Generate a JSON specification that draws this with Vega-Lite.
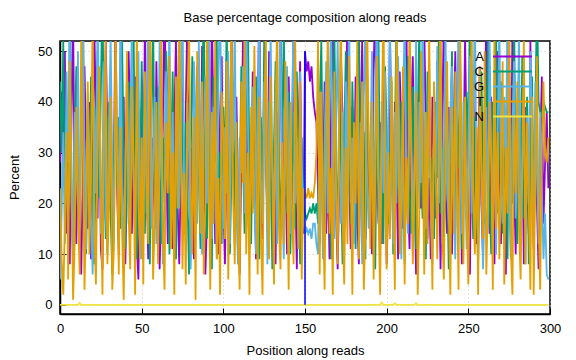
{
"$schema":"https://vega.github.io/schema/vega-lite/v6.json",
"width":490,"height":273,
"autosize":{"type":"none"},
"padding":{"left":60,"top":41,"right":26,"bottom":46},
"background":"white",
"title":{"text":"Base percentage composition along reads","font":"Liberation Sans","fontSize":13,"fontWeight":"normal","color":"black","offset":16,"anchor":"middle"},
"config":{
 "view":{"stroke":"black","strokeWidth":1.5},
 "axis":{"labelFont":"Liberation Sans","labelFontSize":13,"labelColor":"black","labelFlush":false,"titleFont":"Liberation Sans","titleFontSize":13,"titleFontWeight":"normal","titleColor":"black","domainColor":"black","domainWidth":1.5,"tickColor":"black","tickSize":-6,"tickWidth":1,"grid":true,"gridColor":"#c0c0c0","gridDash":[1,3],"gridWidth":1}
},
"layer":[
{
"data":{"values":[
{"p":0,"A":28,"C":44,"G":5,"T":23,"N":0},{"p":1,"A":42,"C":30,"G":18,"T":9,"N":0},{"p":2,"A":30,"C":52,"G":34,"T":2,"N":0},{"p":3,"A":50,"C":18,"G":12,"T":16,"N":0},{"p":4,"A":14,"C":38,"G":46,"T":34,"N":0},{"p":5,"A":22,"C":12,"G":28,"T":5,"N":0},{"p":6,"A":8,"C":60,"G":55,"T":48,"N":0},{"p":7,"A":36,"C":25,"G":20,"T":27,"N":0},{"p":8,"A":58,"C":9,"G":8,"T":1,"N":0},{"p":9,"A":20,"C":33,"G":38,"T":12,"N":0},
{"p":10,"A":12,"C":47,"G":24,"T":39,"N":0},{"p":11,"A":33,"C":20,"G":50,"T":20,"N":0},{"p":12,"A":18,"C":14,"G":15,"T":6,"N":0.4},{"p":13,"A":6,"C":39,"G":33,"T":55,"N":0},{"p":14,"A":26,"C":58,"G":62,"T":31,"N":0},{"p":15,"A":47,"C":26,"G":27,"T":3,"N":0},{"p":16,"A":31,"C":10,"G":11,"T":18,"N":0},{"p":17,"A":15,"C":31,"G":42,"T":44,"N":0},{"p":18,"A":40,"C":22,"G":30,"T":10,"N":0},{"p":19,"A":9,"C":45,"G":17,"T":26,"N":0},
{"p":20,"A":24,"C":16,"G":6,"T":58,"N":0},{"p":21,"A":55,"C":8,"G":39,"T":14,"N":0},{"p":22,"A":38,"C":36,"G":22,"T":4,"N":0},{"p":23,"A":17,"C":50,"G":57,"T":30,"N":0},{"p":24,"A":44,"C":21,"G":36,"T":47,"N":0},{"p":25,"A":11,"C":42,"G":14,"T":22,"N":0},{"p":26,"A":7,"C":62,"G":29,"T":2,"N":0},{"p":27,"A":29,"C":28,"G":48,"T":37,"N":0},{"p":28,"A":52,"C":13,"G":19,"T":52,"N":0},{"p":29,"A":35,"C":34,"G":10,"T":8,"N":0},
{"p":30,"A":19,"C":40,"G":35,"T":19,"N":0},{"p":31,"A":46,"C":18,"G":53,"T":41,"N":0},{"p":32,"A":13,"C":6,"G":26,"T":3,"N":0},{"p":33,"A":27,"C":29,"G":12,"T":11,"N":0},{"p":34,"A":60,"C":45,"G":40,"T":60,"N":0},{"p":35,"A":22,"C":23,"G":31,"T":28,"N":0},{"p":36,"A":10,"C":37,"G":18,"T":6,"N":0},{"p":37,"A":34,"C":15,"G":60,"T":35,"N":0},{"p":38,"A":16,"C":52,"G":22,"T":15,"N":0},{"p":39,"A":41,"C":30,"G":8,"T":1,"N":0},
{"p":40,"A":8,"C":11,"G":28,"T":24,"N":0},{"p":41,"A":25,"C":27,"G":45,"T":50,"N":0},{"p":42,"A":50,"C":44,"G":16,"T":18,"N":0},{"p":43,"A":37,"C":19,"G":37,"T":7,"N":0},{"p":44,"A":14,"C":33,"G":55,"T":43,"N":0},{"p":45,"A":30,"C":56,"G":24,"T":29,"N":0},{"p":46,"A":45,"C":24,"G":13,"T":2,"N":0},{"p":47,"A":12,"C":9,"G":34,"T":56,"N":0},{"p":48,"A":5,"C":38,"G":50,"T":21,"N":0},{"p":49,"A":28,"C":20,"G":21,"T":9,"N":0},
{"p":50,"A":39,"C":48,"G":9,"T":33,"N":0},{"p":51,"A":18,"C":31,"G":30,"T":4,"N":0},{"p":52,"A":57,"C":14,"G":43,"T":46,"N":0},{"p":53,"A":26,"C":40,"G":18,"T":26,"N":0},{"p":54,"A":9,"C":26,"G":64,"T":12,"N":0},{"p":55,"A":43,"C":8,"G":36,"T":58,"N":0},{"p":56,"A":21,"C":35,"G":15,"T":37,"N":0},{"p":57,"A":33,"C":57,"G":27,"T":5,"N":0},{"p":58,"A":15,"C":22,"G":41,"T":17,"N":0},{"p":59,"A":48,"C":17,"G":12,"T":40,"N":0},
{"p":60,"A":30,"C":43,"G":25,"T":8,"N":0},{"p":61,"A":7,"C":29,"G":52,"T":28,"N":0},{"p":62,"A":19,"C":12,"G":33,"T":53,"N":0},{"p":63,"A":36,"C":33,"G":8,"T":14,"N":0},{"p":64,"A":64,"C":20,"G":20,"T":3,"N":0},{"p":65,"A":29,"C":50,"G":46,"T":36,"N":0},{"p":66,"A":12,"C":38,"G":29,"T":22,"N":0},{"p":67,"A":40,"C":10,"G":58,"T":49,"N":0},{"p":68,"A":23,"C":27,"G":17,"T":11,"N":0},{"p":69,"A":11,"C":46,"G":38,"T":30,"N":0},
{"p":70,"A":35,"C":18,"G":11,"T":2,"N":0},{"p":71,"A":53,"C":9,"G":26,"T":45,"N":0},{"p":72,"A":20,"C":31,"G":44,"T":19,"N":0},{"p":73,"A":8,"C":55,"G":19,"T":61,"N":0},{"p":74,"A":27,"C":24,"G":35,"T":34,"N":0},{"p":75,"A":44,"C":40,"G":60,"T":7,"N":0},{"p":76,"A":16,"C":14,"G":23,"T":26,"N":0},{"p":77,"A":38,"C":36,"G":14,"T":4,"N":0},{"p":78,"A":58,"C":22,"G":40,"T":40,"N":0},{"p":79,"A":25,"C":6,"G":30,"T":55,"N":0},
{"p":80,"A":13,"C":28,"G":7,"T":23,"N":0},{"p":81,"A":31,"C":49,"G":22,"T":10,"N":0},{"p":82,"A":9,"C":35,"G":48,"T":37,"N":0},{"p":83,"A":22,"C":16,"G":37,"T":1,"N":0},{"p":84,"A":47,"C":42,"G":16,"T":50,"N":0},{"p":85,"A":34,"C":25,"G":52,"T":31,"N":0},{"p":86,"A":18,"C":11,"G":28,"T":14,"N":0},{"p":87,"A":51,"C":38,"G":10,"T":44,"N":0},{"p":88,"A":28,"C":60,"G":33,"T":6,"N":0},{"p":89,"A":6,"C":21,"G":45,"T":20,"N":0},
{"p":90,"A":17,"C":13,"G":20,"T":57,"N":0},{"p":91,"A":42,"C":34,"G":58,"T":29,"N":0},{"p":92,"A":24,"C":20,"G":31,"T":3,"N":0},{"p":93,"A":59,"C":7,"G":13,"T":38,"N":0},{"p":94,"A":33,"C":45,"G":39,"T":16,"N":0},{"p":95,"A":12,"C":28,"G":24,"T":52,"N":0},{"p":96,"A":26,"C":52,"G":9,"T":9,"N":0},{"p":97,"A":10,"C":18,"G":46,"T":25,"N":0},{"p":98,"A":37,"C":30,"G":61,"T":2,"N":0},{"p":99,"A":49,"C":12,"G":27,"T":42,"N":0},
{"p":100,"A":21,"C":39,"G":15,"T":33,"N":0},{"p":101,"A":8,"C":24,"G":35,"T":13,"N":0},{"p":102,"A":30,"C":56,"G":22,"T":48,"N":0},{"p":103,"A":45,"C":33,"G":50,"T":5,"N":0},{"p":104,"A":18,"C":10,"G":12,"T":27,"N":0},{"p":105,"A":55,"C":26,"G":41,"T":60,"N":0},{"p":106,"A":32,"C":44,"G":30,"T":21,"N":0},{"p":107,"A":14,"C":17,"G":56,"T":8,"N":0},{"p":108,"A":41,"C":36,"G":19,"T":36,"N":0},{"p":109,"A":23,"C":8,"G":8,"T":15,"N":0},
{"p":110,"A":6,"C":22,"G":33,"T":3,"N":0},{"p":111,"A":28,"C":47,"G":26,"T":44,"N":0},{"p":112,"A":52,"C":30,"G":47,"T":24,"N":0},{"p":113,"A":36,"C":14,"G":18,"T":56,"N":0},{"p":114,"A":15,"C":41,"G":60,"T":10,"N":0},{"p":115,"A":39,"C":58,"G":37,"T":30,"N":0},{"p":116,"A":11,"C":25,"G":14,"T":2,"N":0},{"p":117,"A":20,"C":12,"G":28,"T":39,"N":0},{"p":118,"A":46,"C":34,"G":43,"T":18,"N":0},{"p":119,"A":27,"C":19,"G":22,"T":51,"N":0},
{"p":120,"A":9,"C":45,"G":10,"T":28,"N":0},{"p":121,"A":34,"C":28,"G":38,"T":6,"N":0},{"p":122,"A":62,"C":9,"G":55,"T":41,"N":0},{"p":123,"A":24,"C":37,"G":25,"T":14,"N":0},{"p":124,"A":13,"C":21,"G":16,"T":2,"N":0},{"p":125,"A":43,"C":52,"G":44,"T":35,"N":0},{"p":126,"A":30,"C":33,"G":31,"T":54,"N":0},{"p":127,"A":17,"C":15,"G":8,"T":20,"N":0},{"p":128,"A":50,"C":40,"G":36,"T":9,"N":0},{"p":129,"A":35,"C":26,"G":53,"T":45,"N":0},
{"p":130,"A":12,"C":7,"G":27,"T":25,"N":0},{"p":131,"A":26,"C":31,"G":19,"T":4,"N":0},{"p":132,"A":8,"C":48,"G":42,"T":38,"N":0},{"p":133,"A":38,"C":22,"G":12,"T":57,"N":0},{"p":134,"A":21,"C":36,"G":34,"T":16,"N":0},{"p":135,"A":54,"C":13,"G":58,"T":7,"N":0},{"p":136,"A":40,"C":27,"G":21,"T":32,"N":0},{"p":137,"A":16,"C":55,"G":9,"T":12,"N":0},{"p":138,"A":29,"C":30,"G":30,"T":48,"N":0},{"p":139,"A":10,"C":18,"G":47,"T":26,"N":0},
{"p":140,"A":45,"C":42,"G":25,"T":3,"N":0},{"p":141,"A":31,"C":10,"G":14,"T":40,"N":0},{"p":142,"A":19,"C":24,"G":39,"T":20,"N":0},{"p":143,"A":57,"C":38,"G":55,"T":8,"N":0},{"p":144,"A":25,"C":15,"G":20,"T":52,"N":0},{"p":145,"A":7,"C":46,"G":33,"T":30,"N":0},{"p":146,"A":33,"C":29,"G":11,"T":11,"N":0},{"p":147,"A":48,"C":8,"G":46,"T":44,"N":0},{"p":148,"A":22,"C":33,"G":28,"T":5,"N":0},{"p":149,"A":14,"C":20,"G":17,"T":23,"N":0},
{"p":150,"A":50,"C":18,"G":14,"T":22,"N":0},{"p":151,"A":46,"C":17,"G":15,"T":21,"N":0},{"p":152,"A":48,"C":18,"G":14,"T":23,"N":0},{"p":153,"A":44,"C":19,"G":15,"T":21,"N":0},{"p":154,"A":47,"C":18,"G":13,"T":22,"N":0},{"p":155,"A":41,"C":20,"G":16,"T":21,"N":0},{"p":156,"A":38,"C":18,"G":16,"T":24,"N":0},{"p":157,"A":36,"C":20,"G":12,"T":30,"N":0},{"p":158,"A":22,"C":16,"G":10,"T":52,"N":0},{"p":159,"A":12,"C":40,"G":42,"T":6,"N":0},
{"p":160,"A":35,"C":52,"G":26,"T":42,"N":0},{"p":161,"A":20,"C":24,"G":9,"T":19,"N":0},{"p":162,"A":44,"C":12,"G":32,"T":3,"N":0},{"p":163,"A":14,"C":36,"G":48,"T":33,"N":0},{"p":164,"A":27,"C":47,"G":18,"T":55,"N":0},{"p":165,"A":9,"C":20,"G":40,"T":14,"N":0},{"p":166,"A":40,"C":9,"G":57,"T":27,"N":0},{"p":167,"A":56,"C":30,"G":23,"T":2,"N":0},{"p":168,"A":31,"C":54,"G":13,"T":46,"N":0},{"p":169,"A":18,"C":27,"G":35,"T":24,"N":0},
{"p":170,"A":7,"C":14,"G":52,"T":8,"N":0},{"p":171,"A":24,"C":41,"G":29,"T":38,"N":0},{"p":172,"A":49,"C":25,"G":16,"T":58,"N":0},{"p":173,"A":37,"C":8,"G":38,"T":17,"N":0},{"p":174,"A":15,"C":33,"G":10,"T":4,"N":0},{"p":175,"A":30,"C":50,"G":44,"T":31,"N":0},{"p":176,"A":61,"C":22,"G":26,"T":12,"N":0},{"p":177,"A":26,"C":37,"G":59,"T":49,"N":0},{"p":178,"A":11,"C":16,"G":20,"T":26,"N":0},{"p":179,"A":39,"C":44,"G":33,"T":2,"N":0},
{"p":180,"A":22,"C":28,"G":12,"T":36,"N":0},{"p":181,"A":45,"C":11,"G":27,"T":20,"N":0},{"p":182,"A":17,"C":39,"G":47,"T":52,"N":0},{"p":183,"A":8,"C":57,"G":21,"T":9,"N":0},{"p":184,"A":34,"C":23,"G":36,"T":28,"N":0},{"p":185,"A":52,"C":15,"G":8,"T":44,"N":0},{"p":186,"A":28,"C":34,"G":41,"T":3,"N":0},{"p":187,"A":13,"C":9,"G":55,"T":15,"N":0},{"p":188,"A":41,"C":45,"G":24,"T":57,"N":0},{"p":189,"A":20,"C":30,"G":15,"T":33,"N":0},
{"p":190,"A":31,"C":18,"G":30,"T":11,"N":0},{"p":191,"A":10,"C":42,"G":50,"T":40,"N":0},{"p":192,"A":47,"C":26,"G":18,"T":5,"N":0},{"p":193,"A":58,"C":7,"G":35,"T":24,"N":0},{"p":194,"A":25,"C":38,"G":62,"T":49,"N":0},{"p":195,"A":16,"C":53,"G":28,"T":18,"N":0},{"p":196,"A":36,"C":20,"G":11,"T":2,"N":0},{"p":197,"A":12,"C":32,"G":40,"T":35,"N":0.5},{"p":198,"A":43,"C":12,"G":22,"T":60,"N":0},{"p":199,"A":29,"C":47,"G":46,"T":22,"N":0},
{"p":200,"A":8,"C":35,"G":17,"T":7,"N":0},{"p":201,"A":21,"C":16,"G":33,"T":30,"N":0},{"p":202,"A":54,"C":28,"G":56,"T":13,"N":0},{"p":203,"A":33,"C":44,"G":25,"T":45,"N":0},{"p":204,"A":18,"C":10,"G":12,"T":26,"N":0},{"p":205,"A":40,"C":31,"G":38,"T":3,"N":0.3},{"p":206,"A":27,"C":58,"G":20,"T":54,"N":0},{"p":207,"A":9,"C":24,"G":49,"T":38,"N":0},{"p":208,"A":46,"C":19,"G":29,"T":10,"N":0},{"p":209,"A":35,"C":40,"G":9,"T":21,"N":0},
{"p":210,"A":15,"C":27,"G":36,"T":47,"N":0},{"p":211,"A":30,"C":8,"G":58,"T":4,"N":0},{"p":212,"A":60,"C":36,"G":23,"T":29,"N":0},{"p":213,"A":22,"C":49,"G":14,"T":16,"N":0},{"p":214,"A":11,"C":22,"G":42,"T":58,"N":0},{"p":215,"A":38,"C":14,"G":31,"T":33,"N":0},{"p":216,"A":49,"C":43,"G":10,"T":8,"N":0},{"p":217,"A":24,"C":30,"G":27,"T":22,"N":0},{"p":218,"A":6,"C":11,"G":52,"T":42,"N":0.3},{"p":219,"A":32,"C":37,"G":19,"T":2,"N":0},
{"p":220,"A":44,"C":55,"G":40,"T":18,"N":0},{"p":221,"A":19,"C":26,"G":24,"T":50,"N":0},{"p":222,"A":28,"C":17,"G":60,"T":31,"N":0},{"p":223,"A":55,"C":33,"G":33,"T":6,"N":0},{"p":224,"A":36,"C":9,"G":15,"T":38,"N":0},{"p":225,"A":13,"C":46,"G":28,"T":12,"N":0},{"p":226,"A":25,"C":38,"G":47,"T":56,"N":0},{"p":227,"A":9,"C":21,"G":18,"T":24,"N":0},{"p":228,"A":41,"C":29,"G":8,"T":3,"N":0},{"p":229,"A":30,"C":13,"G":37,"T":44,"N":0},
{"p":230,"A":17,"C":40,"G":26,"T":27,"N":0},{"p":231,"A":48,"C":25,"G":51,"T":9,"N":0},{"p":232,"A":26,"C":56,"G":20,"T":36,"N":0},{"p":233,"A":7,"C":18,"G":43,"T":61,"N":0},{"p":234,"A":35,"C":31,"G":12,"T":15,"N":0},{"p":235,"A":57,"C":12,"G":30,"T":5,"N":0},{"p":236,"A":21,"C":44,"G":55,"T":30,"N":0},{"p":237,"A":14,"C":28,"G":24,"T":48,"N":0},{"p":238,"A":39,"C":7,"G":16,"T":20,"N":0},{"p":239,"A":24,"C":35,"G":38,"T":2,"N":0},
{"p":240,"A":10,"C":50,"G":47,"T":39,"N":0},{"p":241,"A":33,"C":22,"G":21,"T":14,"N":0},{"p":242,"A":50,"C":15,"G":9,"T":46,"N":0},{"p":243,"A":29,"C":39,"G":34,"T":25,"N":0},{"p":244,"A":18,"C":27,"G":57,"T":3,"N":0},{"p":245,"A":42,"C":48,"G":28,"T":53,"N":0},{"p":246,"A":8,"C":11,"G":14,"T":32,"N":0},{"p":247,"A":27,"C":33,"G":40,"T":8,"N":0},{"p":248,"A":53,"C":20,"G":25,"T":41,"N":0},{"p":249,"A":31,"C":42,"G":11,"T":18,"N":0},
{"p":250,"A":16,"C":30,"G":32,"T":4,"N":0},{"p":251,"A":6,"C":60,"G":49,"T":29,"N":0},{"p":252,"A":38,"C":24,"G":18,"T":57,"N":0},{"p":253,"A":45,"C":13,"G":36,"T":22,"N":0},{"p":254,"A":23,"C":37,"G":60,"T":10,"N":0},{"p":255,"A":12,"C":19,"G":22,"T":35,"N":0},{"p":256,"A":30,"C":8,"G":13,"T":2,"N":0},{"p":257,"A":47,"C":29,"G":44,"T":47,"N":0},{"p":258,"A":20,"C":46,"G":27,"T":26,"N":0},{"p":259,"A":9,"C":25,"G":7,"T":13,"N":0},
{"p":260,"A":35,"C":16,"G":24,"T":50,"N":0},{"p":261,"A":58,"C":34,"G":39,"T":6,"N":0},{"p":262,"A":26,"C":52,"G":15,"T":20,"N":0},{"p":263,"A":14,"C":21,"G":53,"T":40,"N":0},{"p":264,"A":41,"C":10,"G":30,"T":28,"N":0},{"p":265,"A":19,"C":40,"G":19,"T":3,"N":0},{"p":266,"A":8,"C":28,"G":45,"T":55,"N":0},{"p":267,"A":32,"C":55,"G":10,"T":15,"N":0},{"p":268,"A":50,"C":18,"G":34,"T":34,"N":0},{"p":269,"A":28,"C":31,"G":57,"T":9,"N":0},
{"p":270,"A":12,"C":44,"G":22,"T":26,"N":0},{"p":271,"A":37,"C":14,"G":16,"T":48,"N":0},{"p":272,"A":22,"C":26,"G":41,"T":4,"N":0},{"p":273,"A":6,"C":38,"G":28,"T":31,"N":0},{"p":274,"A":44,"C":9,"G":61,"T":18,"N":0},{"p":275,"A":30,"C":47,"G":20,"T":59,"N":0},{"p":276,"A":17,"C":33,"G":9,"T":11,"N":0},{"p":277,"A":55,"C":20,"G":35,"T":2,"N":0},{"p":278,"A":24,"C":58,"G":48,"T":37,"N":0},{"p":279,"A":10,"C":24,"G":17,"T":22,"N":0},
{"p":280,"A":29,"C":12,"G":30,"T":44,"N":0},{"p":281,"A":46,"C":36,"G":54,"T":16,"N":0},{"p":282,"A":18,"C":22,"G":13,"T":5,"N":0},{"p":283,"A":33,"C":49,"G":25,"T":28,"N":0},{"p":284,"A":8,"C":17,"G":42,"T":52,"N":0},{"p":285,"A":39,"C":30,"G":8,"T":8,"N":0},{"p":286,"A":25,"C":41,"G":37,"T":36,"N":0},{"p":287,"A":14,"C":8,"G":20,"T":20,"N":0},{"p":288,"A":52,"C":27,"G":50,"T":3,"N":0},{"p":289,"A":27,"C":45,"G":33,"T":41,"N":0},
{"p":290,"A":11,"C":20,"G":14,"T":2,"N":0},{"p":291,"A":36,"C":35,"G":44,"T":24,"N":0},{"p":292,"A":20,"C":62,"G":26,"T":49,"N":0},{"p":293,"A":7,"C":40,"G":12,"T":17,"N":0},{"p":294,"A":31,"C":38,"G":38,"T":3,"N":0},{"p":295,"A":45,"C":37,"G":22,"T":30,"N":0},{"p":296,"A":16,"C":40,"G":9,"T":44,"N":0},{"p":297,"A":28,"C":39,"G":18,"T":30,"N":0},{"p":298,"A":38,"C":38,"G":6,"T":28,"N":0},{"p":299,"A":23,"C":38,"G":5,"T":33,"N":0}
]},
"transform":[{"fold":["A","C","G","T","N"],"as":["base","pct"]}],
"mark":{"type":"line","strokeWidth":1.8,"clip":true},
"encoding":{
 "x":{"field":"p","type":"quantitative","scale":{"domain":[0,300],"nice":false},"axis":{"values":[0,50,100,150,200,250,300],"title":"Position along reads","labelPadding":14,"titleY":40,"titleBaseline":"alphabetic"}},
 "y":{"field":"pct","type":"quantitative","scale":{"domain":[-1.8,52],"nice":false,"zero":false},"axis":{"values":[0,10,20,30,40,50],"title":"Percent","labelPadding":14,"titleX":-42,"titleY":136,"titleBaseline":"alphabetic"}},
 "color":{"field":"base","type":"nominal","scale":{"domain":["A","C","G","T","N"],"range":["#9400d3","#009e73","#56b4e9","#e69f00","#f0e442"]},"legend":{"title":null,"orient":"none","legendX":445,"legendY":8,"symbolType":"M-3,0H3","symbolSize":169,"symbolStrokeWidth":2,"labelFont":"Liberation Sans","labelFontSize":13,"labelColor":"black","labelAlign":"right","labelOffset":-36,"rowPadding":0,"padding":0}}
}
},
{
"data":{"values":[{"p":150,"lo":0,"hi":50}]},
"mark":{"type":"rule","color":"#0000ff","strokeWidth":1.5},
"encoding":{"x":{"field":"p","type":"quantitative"},"y":{"field":"lo","type":"quantitative"},"y2":{"field":"hi"}}
}
]
}
